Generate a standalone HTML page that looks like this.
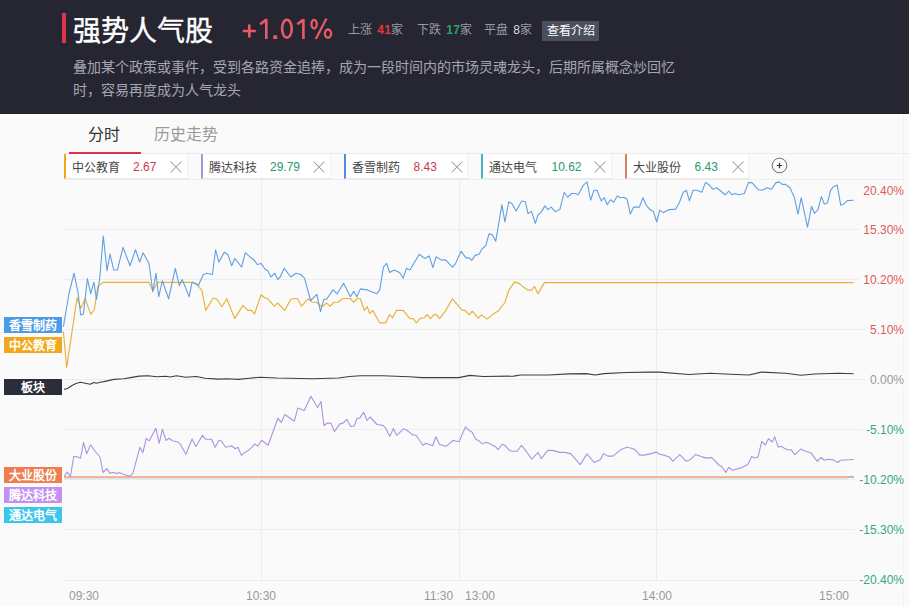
<!DOCTYPE html>
<html lang="zh-CN">
<head>
<meta charset="utf-8">
<style>
*{margin:0;padding:0;box-sizing:border-box}
html,body{width:909px;height:606px;overflow:hidden;background:#fafafa;font-family:"Liberation Sans",sans-serif}
.a{position:absolute;white-space:nowrap}
#hd{position:absolute;left:0;top:0;width:909px;height:114px;background:#262633}
#bar{left:62px;top:13px;width:4px;height:30px;background:#e0344c}
#title{left:73px;top:14px;font-size:28px;line-height:36px;color:#fff;-webkit-text-stroke:0.4px #fff}
.st{font-size:12px;line-height:20px;color:#9a9aa4;top:20px}
.st b{font-weight:bold;margin-left:2px;letter-spacing:0.3px}
#btn{left:542px;top:21px;width:57px;height:20px;background:#4a4f5d;color:#fff;font-size:12px;line-height:20px;text-align:center}
.desc{left:73px;font-size:14px;line-height:23px;color:#a6a6b0}
#sep{left:64px;top:153px;width:845px;height:1px;background:#ececec}
#ul{left:69px;top:152px;width:72px;height:2px;background:#d8344a}
.tab{top:123px;font-size:16px;line-height:24px}
.tag{position:absolute;top:154px;height:25px;background:#fff;border-left:2px solid;border-bottom:1px solid #e8e8e8;box-shadow:inset -1px 0 0 #f0f0f0;font-size:12px;line-height:23px;color:#444}
.tag span{position:absolute;top:3px}
.tag .x{position:absolute;top:6.5px;width:12px;height:12px}
.gl{position:absolute;left:64px;width:839px;height:1px;background:#ededed}
.vl{position:absolute;top:179px;width:1px;height:401px;background:#ededed}
.yl{position:absolute;right:5px;font-size:12px;line-height:14px;padding-left:4px;background:#fafafa}
.xl{position:absolute;top:588px;font-size:12px;line-height:16px;color:#999}
.lab{position:absolute;left:4px;width:58px;height:16px;font-size:12px;line-height:18px;color:#fff;text-align:center;font-weight:bold}
</style>
</head>
<body>
<div id="hd"></div>
<div class="a" id="bar"></div>
<div class="a" id="title">强势人气股</div>
<svg class="a" style="left:0;top:0" width="340" height="50" viewBox="0 0 340 50"><g stroke="#ea5a66" stroke-width="2.6" fill="none" stroke-linecap="butt">
<path d="M242.8 31H255.8M249.3 24.6V37.4"/>
<path d="M266.3 18.9V39M266.3 19.6L260.2 24.2"/>
<rect x="273.3" y="35.2" width="3.9" height="3.8" fill="#ea5a66" stroke="none"/>
<ellipse cx="286.9" cy="28.7" rx="4.8" ry="8.9"/>
<path d="M303.4 18.9V39M303.4 19.6L297.3 24.2"/>
<ellipse cx="314.1" cy="24.2" rx="2.6" ry="4.3" stroke-width="2.3"/>
<ellipse cx="328" cy="33.6" rx="3.1" ry="4.1" stroke-width="2.3"/>
<path d="M326.5 18.6L315.8 38.9" stroke-width="2.2"/>
</g></svg>
<div class="a st" style="left:348px">上涨 <b style="color:#e8343e">41</b>家</div>
<div class="a st" style="left:417px">下跌 <b style="color:#2aa468">17</b>家</div>
<div class="a st" style="left:484px">平盘 <b style="color:#dcdce0;font-weight:normal">8</b>家</div>
<div class="a" id="btn">查看介绍</div>
<div class="a desc" style="top:56px">叠加某个政策或事件，受到各路资金追捧，成为一段时间内的市场灵魂龙头，后期所属概念炒回忆</div>
<div class="a desc" style="top:79px">时，容易再度成为人气龙头</div>

<div class="a" style="left:0;top:114px;width:909px;height:4px;background:linear-gradient(#fff,#fdfdfd 60%,#fafafa)"></div>
<div class="a" id="sep"></div>
<div class="a" id="ul"></div>
<div class="a tab" style="left:88px;color:#333">分时</div>
<div class="a tab" style="left:154px;color:#999">历史走势</div>

<!-- grid -->
<div class="gl" style="top:179px"></div>
<div class="gl" style="top:229px"></div>
<div class="gl" style="top:279px"></div>
<div class="gl" style="top:329px"></div>
<div class="gl" style="top:379px"></div>
<div class="gl" style="top:429px"></div>
<div class="gl" style="top:479px"></div>
<div class="gl" style="top:529px"></div>
<div class="gl" style="top:580px"></div>
<div class="vl" style="left:261px"></div>
<div class="vl" style="left:459px"></div>
<div class="vl" style="left:656px"></div>
<div class="a" style="left:903px;top:114px;width:1px;height:492px;background:#f1f1f1"></div>

<!-- y labels -->
<div class="yl" style="top:184px;color:#dc5a5c">20.40%</div>
<div class="yl" style="top:223px;color:#dc5a5c">15.30%</div>
<div class="yl" style="top:273px;color:#dc5a5c">10.20%</div>
<div class="yl" style="top:323px;color:#dc5a5c">5.10%</div>
<div class="yl" style="top:373px;color:#999">0.00%</div>
<div class="yl" style="top:423px;color:#36a87a">-5.10%</div>
<div class="yl" style="top:473px;color:#36a87a">-10.20%</div>
<div class="yl" style="top:523px;color:#36a87a">-15.30%</div>
<div class="yl" style="top:573px;color:#36a87a">-20.40%</div>

<!-- x labels -->
<div class="xl" style="left:69px">09:30</div>
<div class="xl" style="left:246px">10:30</div>
<div class="xl" style="left:424px">11:30</div>
<div class="xl" style="left:465px">13:00</div>
<div class="xl" style="left:642px">14:00</div>
<div class="xl" style="left:819px">15:00</div>

<!-- chart lines -->
<svg id="chart" style="position:absolute;left:0;top:0" width="909" height="606" viewBox="0 0 909 606">
<polyline points="64,478.6 848,478.6" stroke="#cfe8f6" stroke-width="1.2" fill="none"/>
<polyline points="64,477 848,477" stroke="#f29c6a" stroke-width="1.5" fill="none"/><polyline points="848,477 854,477" stroke="#a89890" stroke-width="1.4" fill="none"/>
<polyline points="64.2,476.5 67.1,472.1 70.4,476.5 73.7,456.5 77.1,456.8 80.5,458.2 83.5,442.3 86.7,453.8 90.5,444.9 95.7,452 99.8,456.5 103.1,472.5 106.8,468.6 109.8,473.1 113.5,472.5 117.2,473.6 119.4,472.5 125.4,475 129.8,476.1 132.8,473.6 139.9,447.3 142.9,452.7 146.2,438.3 149.2,440.9 155.8,428.2 159.2,443.2 162.4,429.4 166.1,440.5 169.1,438.3 172.5,440.8 177.3,441.7 180.3,444.2 185.9,454.2 192.1,439 195.9,446.5 202.5,435.3 205.8,439.3 211.5,439.3 215.2,447.2 218.9,440.2 221.6,441.3 225.6,447.2 228.6,446.5 231.5,445.7 235.2,448.7 237.9,447.2 241.5,455.4 244.9,452.4 248.6,450.2 252.3,446.8 254.8,443.8 257.7,446.2 261.6,440.2 268.1,445.3 277.9,418.2 281.2,422.4 284.9,414.5 294.3,421.2 297.8,408.1 304.2,410.5 310.9,396.2 317.6,407.5 321,401.6 324,425.7 327.3,423 331,423.4 334.4,431.6 339.9,423.9 343.3,423 346.9,419.4 350.6,426.4 354.2,426 356.9,418.5 359.9,417.9 363.6,412.3 367,420.5 370,417 377,424.5 382.9,425.4 385.4,427.9 389.9,436.4 393.3,428.6 396.7,435.3 403.7,428.9 406.2,429.8 412.6,434.9 416,435.3 423,445.3 426,443.2 432.7,445.7 435.9,436.8 439.4,444.2 445.6,446.2 448.2,444.7 453.1,440.5 459,441.7 465.6,426.8 469,430.4 472,431.9 475.7,439.3 478.9,440.8 482.3,443.8 486.4,442.3 491.7,444.7 495.7,446.8 498.2,449.7 502.1,444.2 505.1,445.3 508.6,449.7 512.1,451.2 517.3,451.2 521.4,445.3 526.2,451.2 531.8,459.1 538.1,452.4 541.2,458.6 548.1,450.2 553.6,450.6 559.5,452.4 564.7,452.4 570.7,453.6 580.3,464.6 587,453.9 594.1,462.5 600.4,459.5 603.6,453.6 607.8,456.1 613,456.1 621.2,449.4 626.8,447.2 631.6,448.2 635.2,449.7 639.7,455.1 644.1,455.1 650.1,453.9 656.4,452.1 659.7,454.2 664.9,455.4 669.4,456.9 672.8,461.3 679.8,454.6 686.2,461.3 690.2,459.8 695.4,454.6 701.3,456.6 706.5,458.1 711.7,457.6 718.9,465 721.8,466.5 725.8,472.5 728.7,467.3 732.4,470.2 736.9,469 742.1,467.6 748,464.3 751.7,456.6 754.7,458.1 758,456.9 761.8,441.3 765.4,445 768.4,438.7 772.3,442 774.8,436.8 778.2,447.2 781.2,446.2 784.4,448.2 787.4,449.7 791.1,449.7 794.8,454.6 800.8,449.1 805.2,451 811,452.9 817.3,461.4 821,457.5 824.3,460.2 827.7,459.3 833.5,459.9 837.9,462.5 840.4,460.2 853.7,459.5" stroke="#ae92de" stroke-width="1.1" fill="none" stroke-linejoin="round"/>
<polyline points="64.2,389.4 67.5,388.5 72,385.5 76,383.5 80.3,382.3 84,383 90.2,384.3 93.9,382.5 96.6,383.2 100,382.3 104,381.6 113.9,379.4 123.8,378.7 130.4,377.6 139.2,376.1 148,375.8 156.8,376.7 165.6,376.3 170,377 176.6,375.8 185.4,377.2 196.4,376.5 205.2,378.3 218.4,379.1 227.2,378.7 238.2,379.4 249.2,378.3 260,377.2 277,378 312.2,378.7 338.6,378 349.6,376.5 360.6,375.8 382.6,375.8 409,376.7 422.2,377.6 458.8,377.6 469.8,375.4 483,376.5 513.8,376.1 520.4,375 549,375 568.8,373.9 586.4,373.6 595.2,375 604,373.6 626,372.5 650,372.1 659.5,372.1 688.6,374.5 710.3,373.3 724.9,374 749.1,375 761.2,372.1 785.4,373.3 801.1,375.2 814.4,374 838.6,373.3 853.6,373.8" stroke="#3e3e3e" stroke-width="1.1" fill="none" stroke-linejoin="round"/>
<polyline points="63.4,331.2 66.7,367.5 72.2,330.3 77.1,297.7 80.7,308.2 85.2,298.6 90.7,314.4 94.3,309.5 97.9,286.4 103.4,282.2 149,282.4 152.8,290.6 156.5,284.4 157.5,282.4 189.7,282.4 195.8,283.2 202,290.6 205.7,310.4 213.2,298 216.9,299.3 221.8,306.7 226.8,298.8 234.7,318.6 242.9,305.4 247.8,310.4 251.5,310.4 254.5,314.1 261.1,294.8 264.9,298 267.8,298.8 274.3,306.2 277.7,303 284.7,310.4 290.8,299.3 294.6,298.5 297.5,298.5 301.5,306.2 308.2,298.8 311.9,302.2 316.8,302.2 321.8,306.7 326.7,303 329.7,306.2 334.2,302.2 337.9,302.2 342.8,298.5 350,298.5 353.7,302.2 357.4,298.5 360.3,298.5 364.3,310.4 367.3,306.7 369.8,313.6 372.7,310.4 379.7,322.8 385.8,322.8 389.6,314.6 392.5,317.8 396.5,310.4 403.2,310.4 409.9,318.6 413.1,318.6 416.3,322.8 419.8,318.6 424.2,317.8 427.2,314.6 430.4,318.6 434.1,314.6 436.6,314.6 439.6,318.6 445.4,311.1 452.4,298.8 461.8,309.9 465.2,310.6 469.2,314.9 472.2,311.1 478.4,318.1 481.6,314.9 487,319.1 493.2,314.1 498.2,311.1 504.9,302.5 508.8,290.1 514.8,281.9 519.7,283.9 524.2,287.6 527.9,290.1 531.6,290.1 534.6,286.4 538,293.8 544.4,282.6 853.7,282.6" stroke="#eab03a" stroke-width="1.15" fill="none" stroke-linejoin="round"/>
<polyline points="63.4,326.7 68.9,294 74,273.2 78,292.2 80.7,314.9 83.4,314 87.4,278.6 90.7,293.7 93.9,282.2 96.5,299.5 99.6,279.5 103.3,236 107,270.8 110,254 113.7,270 117.4,270 123,247.3 130,265.8 135.5,249.8 139.7,262 143,252.7 149,263.4 152.8,291.8 156,273.3 158.7,296.8 162.4,280.7 168.6,298.8 175.3,268.3 179.3,285.6 182.2,279.5 189.2,296.8 192.1,282 198.3,285.6 203.3,274.5 207,273.3 212.4,274.5 215.6,249.8 218.9,262.1 224.3,252.2 228,254.7 231.7,265.8 234.7,258.4 241.6,267 245.3,252.7 250.3,257.2 253.7,259.7 257.4,264.6 261.1,263.4 264.9,269 267.8,270.8 271,277 274.8,273.3 277.7,279.5 280.2,277 284.2,268.3 290.8,277 295.8,273.3 300.7,274.5 304.5,278.2 310.6,300.5 316.8,294.3 320.5,311.6 323.8,299.3 326.7,299.3 332.9,289.9 337.1,293.8 343.6,283.2 350.4,296.8 353.7,291.3 356.9,296.8 360.3,288.9 367.3,289.9 376.7,293.8 379.7,289.9 383.4,267.1 386.6,263.4 389.6,272.5 394,270 399.5,272.5 403.2,278.2 406.4,268.3 409.9,270 419.3,254.2 424.7,258.4 429.2,255.9 432.9,267.6 436.1,256.7 441.5,260.1 445.4,259.7 452.4,267.1 455.3,264.1 461,251.2 466,257.9 469.2,257.9 471.7,260.4 475.1,255.4 479.1,254.2 482.1,248.8 485.8,245.5 489,233.9 492.5,234.9 495.7,241.3 501.9,204.7 504.9,222 508.8,201.7 511.8,203.5 516.2,210.9 521.7,201 525.4,201.7 527.9,213.4 531.6,211.6 535.3,223.3 538,215 541.2,212.1 544.9,205.9 547.9,209.6 551.1,207.1 555.3,211.6 559.8,209.6 564.2,192.3 567.7,197.2 571.6,193.5 575.1,193.5 578.3,194.8 583.3,185.3 587,181.9 590.7,200.2 593.9,190.3 596.9,190.3 601.3,200.9 604.3,197.7 607.3,204.7 610.5,199.7 613.7,202.2 617.2,196 620.4,197.7 624.1,197.2 627.1,199.2 630.3,214.1 633.7,207.1 639.4,207.1 642.9,197.7 646.8,205.9 649.8,209.6 653.5,211.6 656.7,222 659.7,210.1 663.4,212.6 669.1,209.6 675.8,209.1 679.5,202.2 683.2,192.3 686.4,190.3 689.4,200.9 693.1,190.3 696.8,190.3 701.8,192.3 705.5,182.4 709.7,185.3 712.9,189.3 716.6,187.8 725.3,194.8 728.7,191 731.9,194.8 735.4,193.5 738.6,194.8 744.3,193.5 748.5,182.4 752.2,182.9 758.4,189.8 762.1,190.3 767.1,187.8 771.5,189.3 775.7,182.9 779,181.9 782.4,184.4 785.6,184.4 789.9,187.8 794.3,197.2 798,214.1 801.2,197.7 807.5,227.2 811.6,206.4 814.4,213.3 817.9,209.9 821.4,196.6 824.3,204.1 827.5,202.9 830.6,190.2 833.5,186.7 837.2,185 840.7,205.2 843.7,204.1 847.4,200.6 853.7,200.3" stroke="#60a0e2" stroke-width="1.1" fill="none" stroke-linejoin="round"/>
</svg>

<!-- left labels -->
<div class="lab" style="top:317px;background:#4c9be6">香雪制药</div>
<div class="lab" style="top:337px;background:#f3a81c">中公教育</div>
<div class="lab" style="top:379px;background:#2b2e3a">板块</div>
<div class="lab" style="top:467px;background:#f07d4c">大业股份</div>
<div class="lab" style="top:487px;background:#c48ff0">腾达科技</div>
<div class="lab" style="top:507px;background:#3cc6ea">通达电气</div>

<!-- tags -->
<div class="tag" style="left:64px;width:124px;border-left-color:#f3a81c"><span style="left:6px">中公教育</span><span style="left:67px;color:#c83a4a;top:2px">2.67</span><svg class="x" style="left:104px" viewBox="0 0 12 12"><path d="M0.5 0.5L11.5 11.5M11.5 0.5L0.5 11.5" stroke="#9a9a9a" stroke-width="1.05" fill="none"/></svg></div>
<div class="tag" style="left:201px;width:130px;border-left-color:#ac92d8"><span style="left:6px">腾达科技</span><span style="left:67px;color:#27996a;top:2px">29.79</span><svg class="x" style="left:110px" viewBox="0 0 12 12"><path d="M0.5 0.5L11.5 11.5M11.5 0.5L0.5 11.5" stroke="#9a9a9a" stroke-width="1.05" fill="none"/></svg></div>
<div class="tag" style="left:344px;width:124px;border-left-color:#4d8ee0"><span style="left:6px">香雪制药</span><span style="left:67.5px;color:#c83a4a;top:2px">8.43</span><svg class="x" style="left:104.5px" viewBox="0 0 12 12"><path d="M0.5 0.5L11.5 11.5M11.5 0.5L0.5 11.5" stroke="#9a9a9a" stroke-width="1.05" fill="none"/></svg></div>
<div class="tag" style="left:481px;width:131px;border-left-color:#48b4cc"><span style="left:6px">通达电气</span><span style="left:68.5px;color:#27996a;top:2px">10.62</span><svg class="x" style="left:111px" viewBox="0 0 12 12"><path d="M0.5 0.5L11.5 11.5M11.5 0.5L0.5 11.5" stroke="#9a9a9a" stroke-width="1.05" fill="none"/></svg></div>
<div class="tag" style="left:625px;width:124px;border-left-color:#d9805c"><span style="left:6px">大业股份</span><span style="left:67.5px;color:#27996a;top:2px">6.43</span><svg class="x" style="left:104.5px" viewBox="0 0 12 12"><path d="M0.5 0.5L11.5 11.5M11.5 0.5L0.5 11.5" stroke="#9a9a9a" stroke-width="1.05" fill="none"/></svg></div>
<svg class="a" style="left:771px;top:157px" width="17" height="17" viewBox="0 0 17 17"><circle cx="8.5" cy="8.5" r="7.3" stroke="#5a5a5a" stroke-width="0.9" fill="none"/><path d="M5.8 8.5H11.2M8.5 5.8V11.2" stroke="#333" stroke-width="1.2"/></svg>
</body>
</html>
